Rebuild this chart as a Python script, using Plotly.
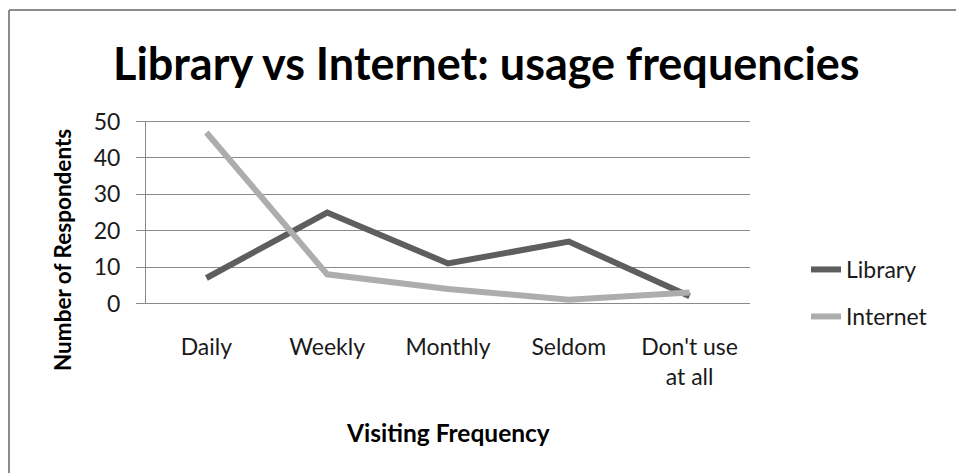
import plotly.graph_objects as go

# Survey responses: how often respondents use the library vs the internet
categories = ["Daily", "Weekly", "Monthly", "Seldom", "Don't use<br>at all"]
library_counts = [7, 25, 11, 17, 2]
internet_counts = [47, 8, 4, 1, 3]
y_ticks = [0, 10, 20, 30, 40, 50]

W, H = 956, 473
L, R, T, B = 146, 206, 121, 169          # plot-area margins in px
PW, PH = W - L - R, H - T - B

def px_x(x):
    return (x - L) / PW

def px_y(y):
    return (H - B - y) / PH

FONT = "Lato"
TXT = "#1a1a1a"
GRID = "#8a8a8a"

fig = go.Figure()
fig.add_trace(go.Scatter(
    x=categories, y=library_counts, name="Library", mode="lines",
    line=dict(color="#5e5e5e", width=6), legend="legend"))
fig.add_trace(go.Scatter(
    x=categories, y=internet_counts, name="Internet", mode="lines",
    line=dict(color="#adadad", width=6), legend="legend2"))

fig.update_layout(
    width=W, height=H,
    margin=dict(l=L, r=R, t=T, b=B, pad=0),
    paper_bgcolor="white", plot_bgcolor="white",
    font=dict(family=FONT, size=23, color=TXT),
    legend=dict(x=px_x(806), y=px_y(248), xanchor="left", yanchor="top",
                font=dict(size=23, color=TXT), bgcolor="rgba(0,0,0,0)"),
    legend2=dict(x=px_x(806), y=px_y(295), xanchor="left", yanchor="top",
                 font=dict(size=23, color=TXT), bgcolor="rgba(0,0,0,0)"),
    xaxis=dict(
        type="category", range=[-0.5, len(categories) - 0.5],
        showgrid=False, showline=False, ticks="", zeroline=False,
        tickfont=dict(size=23, color=TXT), ticklabelstandoff=27),
    yaxis=dict(
        range=[-0.15, 50.15], tickvals=y_ticks, showgrid=True, gridcolor=GRID,
        gridwidth=1, showline=True, linecolor=GRID, linewidth=1,
        ticks="outside", ticklen=9, tickcolor=GRID,
        zeroline=True, zerolinecolor=GRID, zerolinewidth=1,
        tickfont=dict(size=23, color=TXT), ticklabelstandoff=11),
    showlegend=True,
)

# Top gridline at the axis maximum
fig.add_shape(type="line", xref="paper", yref="y",
              x0=0, x1=1, y0=max(y_ticks), y1=max(y_ticks),
              line=dict(color=GRID, width=1), layer="below")

# Outer chart frame (top and left edges)
fig.add_shape(type="line", xref="paper", yref="paper",
              x0=px_x(9), x1=px_x(W + 40), y0=px_y(10), y1=px_y(10),
              line=dict(color="#8c8c8c", width=2), layer="below")
fig.add_shape(type="line", xref="paper", yref="paper",
              x0=px_x(9), x1=px_x(9), y0=px_y(10), y1=px_y(H + 40),
              line=dict(color="#8c8c8c", width=2), layer="below")

# Chart title
fig.add_annotation(text="<b>Library vs Internet: usage frequencies</b>",
                   xref="paper", yref="paper", x=px_x(486), y=px_y(63),
                   xanchor="center", yanchor="middle", showarrow=False,
                   font=dict(family=FONT, size=45, color="#000000"))

# Axis titles
fig.add_annotation(text="<b>Number of Respondents</b>",
                   xref="paper", yref="paper", x=px_x(62), y=px_y(250),
                   xanchor="center", yanchor="middle", showarrow=False,
                   textangle=-90,
                   font=dict(family=FONT, size=22.5, color="#000000"))
fig.add_annotation(text="<b>Visiting Frequency</b>",
                   xref="paper", yref="paper", x=px_x(448), y=px_y(432),
                   xanchor="center", yanchor="middle", showarrow=False,
                   font=dict(family=FONT, size=24.5, color="#000000"))

fig.write_html("out.html")
